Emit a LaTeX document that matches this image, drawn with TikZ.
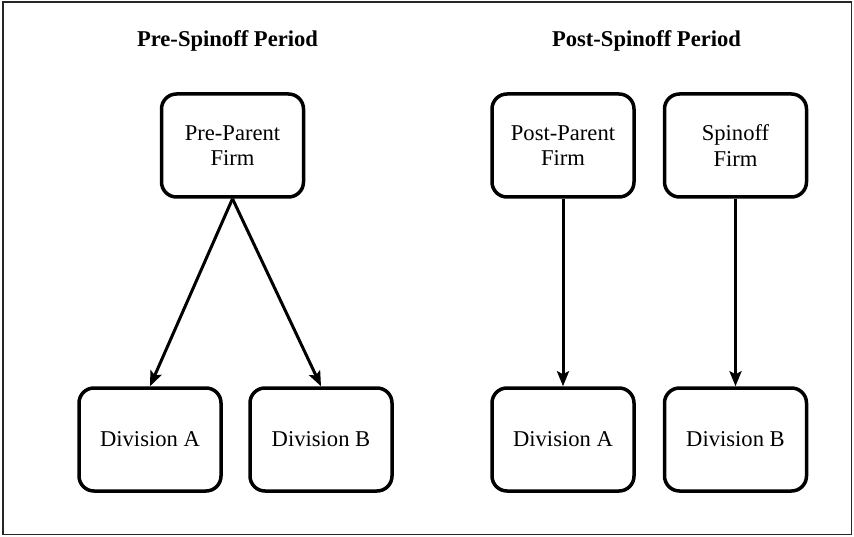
\documentclass[tikz,border=0pt]{standalone}
\usepackage{fontspec}
\setmainfont{Liberation Serif}
\newfontfamily\boxfont{Liberation Serif}
\usetikzlibrary{arrows.meta}
\begin{document}
\begin{tikzpicture}[x=1pt,y=-1pt,
  boxnode/.style={draw,line width=3.5pt,rounded corners=15pt,minimum width=142pt,minimum height=103pt,align=center,inner sep=0pt,font=\boxfont\fontsize{22.6}{25.5}\selectfont},
  titlenode/.style={font=\boxfont\fontsize{22.6}{26}\selectfont\bfseries},
  arr/.style={line width=3pt,-{Stealth[length=15pt,width=12pt,inset=3pt]}}]
\useasboundingbox (0,0) rectangle (854,537);
\draw[line width=1.5pt,black!85] (3,2) rectangle (851.5,534.5);
\node[titlenode] (t1) at (227.5,41) {Pre-Spinoff Period};
\node[titlenode] (t2) at (646.5,41) {Post-Spinoff Period};
\node[boxnode] (pp) at (232.5,145.5) {Pre-Parent\\Firm};
\node[boxnode] (da1) at (150,439.5) {Division A};
\node[boxnode] (db1) at (321,439.5) {Division B};
\node[boxnode] (qp) at (563,145.5) {Post-Parent\\Firm};
\node[boxnode] (sf) at (735.5,145.5) {Spinoff\\Firm};
\node[boxnode] (da2) at (563,439.5) {Division A};
\node[boxnode] (db2) at (735.5,439.5) {Division B};
\draw[arr] (pp.south) -- (da1.north);
\draw[arr] (pp.south) -- (db1.north);
\draw[arr] (qp.south) -- (da2.north);
\draw[arr] (sf.south) -- (db2.north);
\end{tikzpicture}
\end{document}
